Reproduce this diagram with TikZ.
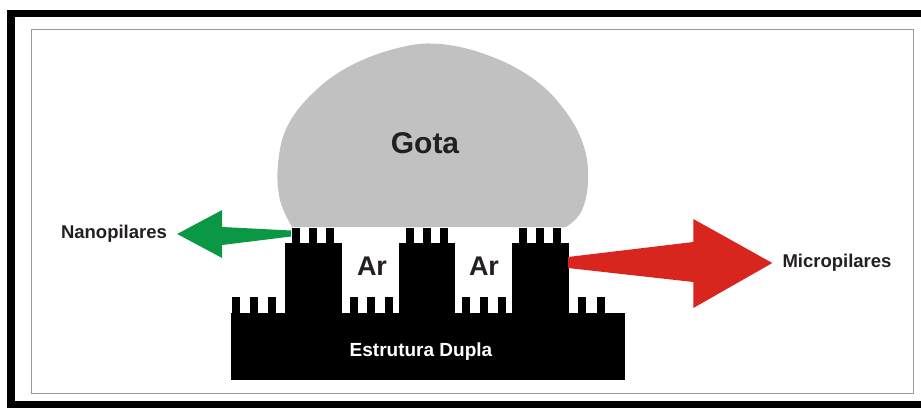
\documentclass[tikz,border=0pt]{standalone}
\usepackage{fontspec}
\setmainfont{Liberation Sans}
\usetikzlibrary{calc}
\definecolor{dropgray}{RGB}{193, 193, 193}
\definecolor{nanogreen}{RGB}{10, 152, 68}
\definecolor{microred}{RGB}{216, 38, 30}
\definecolor{ink}{RGB}{35, 31, 32}

\begin{document}
\begin{tikzpicture}[
  x=1pt, y=-1pt,
  label/.style={font=\bfseries\fontsize{18.5}{20}\selectfont, text=ink, inner sep=0pt},
  big/.style={font=\bfseries\fontsize{#1}{#1}\selectfont, text=ink, inner sep=0pt},
  tooth/.style={fill=black}
]
\useasboundingbox (0,0) rectangle (921,408);
\fill[white] (0,0) rectangle (921,408);
% frame
\fill[black] (7,10) rectangle (921,17);
\fill[black] (7,10) rectangle (15,408);
\fill[black] (7,401) rectangle (921,408);
\draw[gray!80, line width=1pt] (31,29) rectangle (913,393);

% droplet
\fill[dropgray] plot[smooth, tension=0.65] coordinates {
  (292,227) (280,200) (278,165) (287,127) (313,93) (350,66) (398,48)
  (440,44) (490,56) (535,80) (566,112) (584,147) (588,182) (581,212) (566,227)}
  -- cycle;
\node[big=30] (gota) at (425,143) {Gota};

% base with nanopillars
\fill[black] (231,313) rectangle (625,380);
\foreach \x in {232,250,268,350,367,385,462,480,498,578,597}
  \fill[tooth] (\x,297) rectangle ++(8,16);
% micropillars with nanopillars on top
\foreach \x in {285,398.5,512} {
  \fill[black] (\x,243) rectangle ++(56.5,71);
  \foreach \d in {7,24,41}
    \fill[tooth] (\x+\d,228) rectangle ++(8,16);
}
\node[big=27] (ar1) at (372,266) {Ar};
\node[big=27] (ar2) at (484,266) {Ar};
\node[big=19, text=white] (base) at (421,352) {Estrutura Dupla};

% labels and arrows
\node[label] (nano) at (114,234) {Nanopilares};
\node[label] (micro) at (837,263) {Micropilares};
\coordinate (nanoend) at (291,233.5);
\coordinate (microend) at (568,262.5);
\coordinate (gtip) at ($(nano.east)+(10,0)$);
\coordinate (rtip) at ($(micro.west)+(-10,0)$);

\fill[nanogreen] (gtip) -- ++(45,-24) -- ++(0,17) -- ($(nanoend)+(0,-3)$)
  -- ($(nanoend)+(0,3)$) -- ($(gtip)+(45,11)$) -- ++(0,13) -- cycle;
\fill[microred] (rtip) -- ++(-79,-44) -- ++(0,23) -- ($(microend)+(0,-5.5)$)
  -- ($(microend)+(0,5.5)$) -- ($(rtip)+(-79,19)$) -- ++(0,26) -- cycle;
\end{tikzpicture}
\end{document}
